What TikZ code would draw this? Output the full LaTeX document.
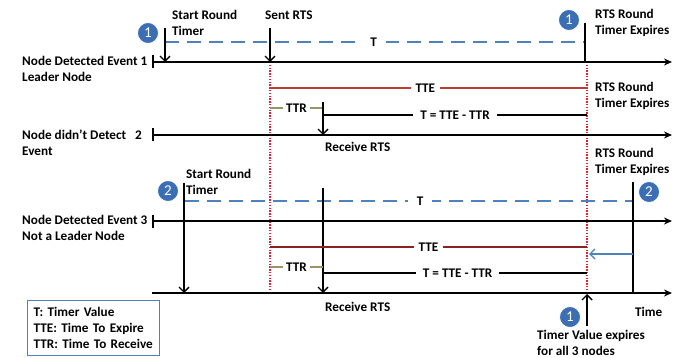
\documentclass[tikz,border=0pt]{standalone}
\usepackage{fontspec}
\setmainfont{Carlito}
\usetikzlibrary{arrows.meta}
\definecolor{dashblue}{HTML}{4F81BD}
\definecolor{ballblue}{HTML}{3C6EB4}
\definecolor{tered}{HTML}{B8403C}
\definecolor{temaroon}{HTML}{8B2020}
\definecolor{ttrolive}{HTML}{9C9468}
\definecolor{dotred}{HTML}{E8202A}
\tikzset{
  axisline/.style={line width=1.6pt, -{Stealth[length=8pt,width=7pt]}},
  tickaxis/.style={line width=1.6pt, {Bar[width=13pt,line width=1.6pt]}-{Stealth[length=8pt,width=7pt]}},
  evarrow/.style={line width=1.4pt, -{Straight Barb[length=5pt,width=10pt,line width=1.4pt]}},
  timerline/.style={dashblue, line width=1.6pt, dash pattern=on 14pt off 8pt},
  plainline/.style={line width=1.4pt},
  dotline/.style={dotred, line width=1.6pt, dash pattern=on 1.4pt off 1.4pt},
  lbl/.style={anchor=west, align=left, inner sep=0pt},
  gaplbl/.style={fill=white, inner xsep=5pt, inner ysep=1pt, text=black},
  ball/.style={circle, fill=ballblue, draw=white, line width=0.8pt, minimum size=21pt,
    inner sep=0pt, text=white, font=\fontsize{15}{15}\selectfont},
}
\begin{document}
\begin{tikzpicture}[x=1pt, y=-1pt, font=\bfseries\fontsize{13.2}{16}\selectfont]
\useasboundingbox (0,0) rectangle (674,358);

% time axes of the three nodes and the shared time axis
\coordinate (ax1s) at (152,62);  \coordinate (ax1e) at (672,62);
\coordinate (ax2s) at (152,135); \coordinate (ax2e) at (672,135);
\coordinate (ax3s) at (152,221); \coordinate (ax3e) at (672,221);
\coordinate (ax4s) at (152,293); \coordinate (ax4e) at (672,293);

% event points, upper part
\coordinate (st1a) at (165,28);  \coordinate (st1b) at (165,62);
\coordinate (rts1a) at (270,28); \coordinate (rts1b) at (270,62);
\coordinate (t1a) at (165,42);   \coordinate (t1b) at (585,42);
\coordinate (exp1a) at (585,23); \coordinate (exp1b) at (585,62);
\coordinate (dot1a) at (270,62); \coordinate (dot1b) at (270,293);
\coordinate (dot2a) at (587,62); \coordinate (dot2b) at (587,293);
\coordinate (tte1a) at (270,88); \coordinate (tte1b) at (587,88);
\coordinate (ttr1a) at (270,108); \coordinate (ttr1b) at (323,108);
\coordinate (rcv1a) at (323,102); \coordinate (rcv1b) at (323,135);
\coordinate (rem1a) at (323,115); \coordinate (rem1b) at (587,115);

% event points, lower part
\coordinate (st2a) at (184,183); \coordinate (st2b) at (184,293);
\coordinate (t2a) at (185,201);  \coordinate (t2b) at (633,201);
\coordinate (exp2a) at (633,182); \coordinate (exp2b) at (633,293);
\coordinate (rcv2a) at (323,188); \coordinate (rcv2b) at (323,293);
\coordinate (tte2a) at (270,247); \coordinate (tte2b) at (587,247);
\coordinate (ttr2a) at (270,267); \coordinate (ttr2b) at (323,267);
\coordinate (rem2a) at (323,273); \coordinate (rem2b) at (587,273);
\coordinate (backa) at (633,254); \coordinate (backb) at (589,254);
\coordinate (alla) at (587,326);  \coordinate (allb) at (587,294);

% RTS reference lines
\draw[dotline] (dot1a) -- (dot1b);
\draw[dotline] (dot2a) -- (dot2b);

% axes
\draw[tickaxis] (ax1s) -- (ax1e);
\draw[tickaxis] (ax2s) -- (ax2e);
\draw[tickaxis] (ax3s) -- (ax3e);
\draw[axisline] (ax4s) -- (ax4e);

% leader node round
\draw[timerline] (t1a) -- (t1b) node[gaplbl, inner xsep=9pt, pos=0.497] (tlab1) {T};
\draw[evarrow] (st1a) -- (st1b);
\draw[evarrow] (rts1a) -- (rts1b);
\draw[plainline] (exp1a) -- (exp1b);
\draw[tered, line width=1.4pt] (tte1a) -- (tte1b) node[gaplbl, pos=0.49] (ttelab1) {TTE};
\draw[ttrolive, line width=1.4pt] (ttr1a) -- (ttr1b) node[gaplbl, inner xsep=3pt, pos=0.5] (ttrlab1) {TTR};
\draw[evarrow] (rcv1a) -- (rcv1b);
\draw[plainline] (rem1a) -- (rem1b) node[gaplbl, inner xsep=7pt, pos=0.5] (remlab1) {T = TTE - TTR};

% non-leader node round
\draw[timerline] (t2a) -- (t2b) node[gaplbl, inner xsep=9pt, pos=0.525] (tlab2) {T};
\draw[evarrow] (st2a) -- (st2b);
\draw[plainline] (exp2a) -- (exp2b);
\draw[evarrow] (rcv2a) -- (rcv2b);
\draw[temaroon, line width=1.4pt] (tte2a) -- (tte2b) node[gaplbl, pos=0.5] (ttelab2) {TTE};
\draw[ttrolive, line width=1.4pt] (ttr2a) -- (ttr2b) node[gaplbl, inner xsep=3pt, pos=0.5] (ttrlab2) {TTR};
\draw[plainline] (rem2a) -- (rem2b) node[gaplbl, inner xsep=7pt, pos=0.51] (remlab2) {T = TTE - TTR};
\draw[dashblue, evarrow] (backa) -- (backb);
\draw[evarrow] (alla) -- (allb);

% numbered markers
\node[ball] (b1a) at (148,33) {1};
\node[ball] (b1b) at (569,20) {1};
\node[ball] (b2a) at (168,191) {2};
\node[ball] (b2b) at (649,192) {2};
\node[ball] (b1c) at (570,317) {1};

% node names
\node[lbl] (n1) at (22,69) {Node Detected Event 1\\Leader Node};
\node[lbl] (n2) at (22,142.5) {Node didn't Detect\hspace{9pt}2\\Event};
\node[lbl] (n3) at (22,228) {Node Detected Event 3\\Not a Leader Node};

% event labels
\node[lbl] (lstart1) at (172,23) {Start Round\\Timer};
\node[lbl] (lsent) at (265,15) {Sent RTS};
\node[lbl] (lexp1) at (595,23) {RTS Round\\Timer Expires};
\node[lbl] (lexp2) at (595,96) {RTS Round\\Timer Expires};
\node[lbl] (lrcv1) at (325,147) {Receive RTS};
\node[lbl] (lexp3) at (595,162) {RTS Round\\Timer Expires};
\node[lbl] (lstart2) at (186,181.5) {Start Round\\Timer};
\node[lbl] (lrcv2) at (325,307) {Receive RTS};
\node[lbl] (ltime) at (635,312) {Time};
\node[lbl] (lall) at (537,343) {Timer Value expires\\for all 3 nodes};

% legend
\node[draw=dashblue, line width=1.2pt, anchor=north west, minimum width=132pt,
  minimum height=55pt, text width=120pt, inner xsep=6pt, align=left] (legend) at (27,300)
  {T: Timer Value\\TTE: Time To Expire\\TTR: Time To Receive};
\end{tikzpicture}
\end{document}
